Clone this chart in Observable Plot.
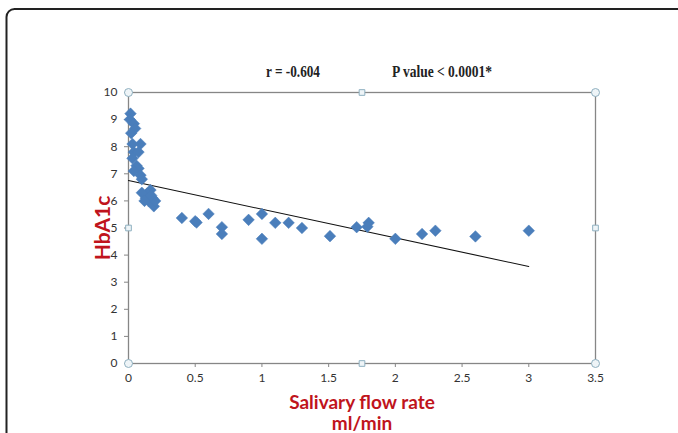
<!DOCTYPE html>
<html><head><meta charset="utf-8">
<script src="https://cdn.jsdelivr.net/npm/d3@7"></script>
<script src="https://cdn.jsdelivr.net/npm/@observablehq/plot@0.6"></script>
<style>
html,body{margin:0;padding:0;background:#fff;}
#chart{width:678px;height:433px;overflow:hidden;}
</style>
</head><body><div id="chart"></div>
<script>
// Salivary flow rate (ml/min)
const flowRate = [0.015,0.01,0.04,0.05,0.02,0.09,0.03,0.04,0.075,0.03,0.06,0.075,0.04,0.09,0.10,
  0.165,0.14,0.18,0.15,0.19,0.13,0.10,0.12,0.20,0.17,
  0.40,0.50,0.51,0.60,0.70,0.70,0.90,1.00,1.00,1.10,1.20,1.30,1.51,1.71,1.80,1.79,2.00,2.20,2.30,2.60,3.00];
// HbA1c
const hba1c = [9.22,9.0,8.85,8.67,8.5,8.1,8.1,7.8,7.8,7.57,7.3,7.2,7.1,6.95,6.8,
  6.4,6.27,6.1,6.0,5.8,6.1,6.3,6.0,6.0,6.2,
  5.37,5.25,5.2,5.52,5.03,4.78,5.3,5.52,4.6,5.19,5.19,5.0,4.7,5.03,5.19,5.05,4.6,4.78,4.9,4.69,4.9];
// trend line endpoints
const trendX = [0, 3];
const trendY = [6.75, 3.58];
const xTicks = [0,0.5,1,1.5,2,2.5,3,3.5];
const yTicks = [0,1,2,3,4,5,6,7,8,9,10];
const xDomain = [0, 3.5];
const yDomain = [0, 10];
const rLabel = "r = -0.604";
const pLabel = "P value < 0.0001*";
const yLabel = "HbA1c";
const xLabel1 = "Salivary flow rate";
const xLabel2 = "ml/min";

const points = flowRate.map((x,i)=>({x, y:hba1c[i]}));
const trend = trendX.map((x,i)=>({x, y:trendY[i]}));
const xm = (xDomain[0]+xDomain[1])/2, ym = (yDomain[0]+yDomain[1])/2;
const cornerHandles = [[xDomain[0],yDomain[0]],[xDomain[0],yDomain[1]],[xDomain[1],yDomain[0]],[xDomain[1],yDomain[1]]].map(([x,y])=>({x,y}));
const midHandles = [[xm,yDomain[0]],[xm,yDomain[1]],[xDomain[0],ym],[xDomain[1],ym]].map(([x,y])=>({x,y}));

const gray = "#868686";
const plot = Plot.plot({
  width: 678, height: 433,
  marginLeft: 128, marginRight: 83, marginTop: 92, marginBottom: 70,
  style: {fontFamily: "Lato, 'Open Sans', sans-serif", fontSize: "12px", color: "#333", background: "#fff", overflow: "visible"},
  x: {domain: xDomain},
  y: {domain: yDomain},
  marks: [
    Plot.frame({stroke: gray, strokeWidth: 1.3}),
    Plot.axisX({ticks: xTicks, tickSize: 4, tickPadding: 6, stroke: gray, fill: "#333", tickFormat: d => String(d), label: null, fontSize: 12}),
    Plot.axisY({ticks: yTicks, tickSize: 4, tickPadding: 7, stroke: gray, fill: "#333", tickFormat: d => String(d), label: null, fontSize: 12}),
    Plot.line(trend, {x: "x", y: "y", stroke: "#111", strokeWidth: 1.1}),
    Plot.dot(points, {x: "x", y: "y", symbol: "square", r: 4.6, rotate: 45, fill: "#4a7ebb", stroke: "#4a7ebb", strokeWidth: 0.5}),
    Plot.dot(cornerHandles, {x: "x", y: "y", r: 4, fill: "#eef4f7", stroke: "#8fb0c0", strokeWidth: 1}),
    Plot.dot(midHandles, {x: "x", y: "y", symbol: "square", r: 3.2, fill: "#eef4f7", stroke: "#8fb0c0", strokeWidth: 1})
  ]
});
document.getElementById("chart").appendChild(plot);

const svg = d3.select(plot);
// outer rounded frame
svg.insert("rect", ":first-child").attr("x", 6.5).attr("y", 9).attr("width", 720).attr("height", 500)
  .attr("rx", 8).attr("fill", "none").attr("stroke", "#222").attr("stroke-width", 2);
// stats text
svg.append("text").attr("x", 266).attr("y", 77).attr("text-anchor", "start").attr("textLength", 54).attr("lengthAdjust", "spacingAndGlyphs")
  .attr("font-family", "'Liberation Serif', serif").attr("font-weight", "bold").attr("font-size", 16).attr("fill", "#222").text(rLabel);
svg.append("text").attr("x", 392).attr("y", 77).attr("text-anchor", "start").attr("textLength", 100).attr("lengthAdjust", "spacingAndGlyphs")
  .attr("font-family", "'Liberation Serif', serif").attr("font-weight", "bold").attr("font-size", 16).attr("fill", "#222").text(pLabel);
// axis titles
svg.append("text").attr("transform", "translate(110,228) rotate(-90)").attr("text-anchor", "middle")
  .attr("font-family", "Lato, 'Open Sans', sans-serif").attr("font-weight", "bold").attr("font-size", 21).attr("fill", "#c0141c").text(yLabel);
svg.append("text").attr("x", 362).attr("y", 409).attr("text-anchor", "middle")
  .attr("font-family", "Lato, 'Open Sans', sans-serif").attr("font-weight", "bold").attr("font-size", 19).attr("fill", "#c0141c").text(xLabel1);
svg.append("text").attr("x", 362).attr("y", 430).attr("text-anchor", "middle")
  .attr("font-family", "Lato, 'Open Sans', sans-serif").attr("font-weight", "bold").attr("font-size", 19).attr("fill", "#c0141c").text(xLabel2);
</script>
</body></html>
